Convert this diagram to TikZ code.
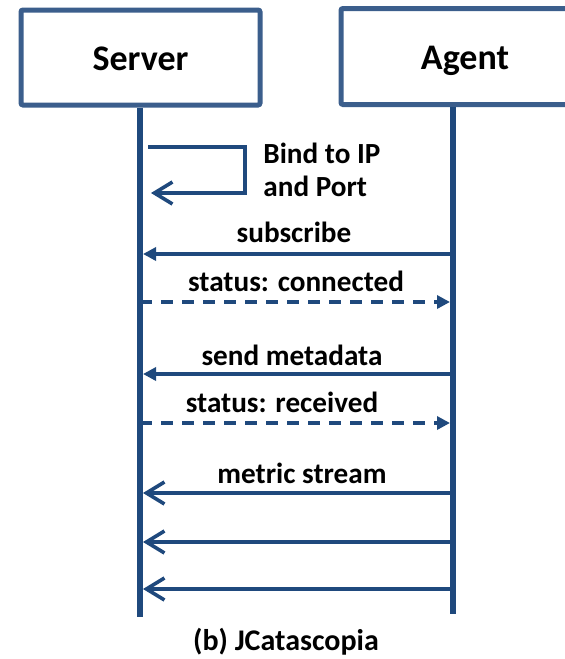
\documentclass[tikz,border=0pt]{standalone}
\usepackage{fontspec}
\setmainfont{Carlito}
\usetikzlibrary{arrows.meta}
\definecolor{boxblue}{RGB}{59,94,140}
\definecolor{lineblue}{RGB}{31,73,125}
\tikzset{
	actor/.style={draw=boxblue, line width=2.5pt, rounded corners=1pt, inner sep=0pt,
		font=\bfseries\fontsize{18}{20}\selectfont, text height=14pt, text depth=1.5pt},
	life/.style={draw=lineblue, line width=3pt},
	msg/.style={draw=lineblue, line width=1.8pt, arrows={-Triangle[length=6.5pt, width=6.5pt]}},
	reply/.style={msg, dash pattern=on 6pt off 4.5pt},
	strm/.style={draw=lineblue, line width=1.8pt, arrows={-Straight Barb[length=9pt, width=11pt]}},
	lbl/.style={font=\bfseries\fontsize{14.6}{17}\selectfont, inner sep=0pt, anchor=base},
}

\begin{document}
\begin{tikzpicture}[x=0.5pt, y=-0.5pt]
	\useasboundingbox (0,0) rectangle (564,659);
	% participants
	\node[actor, minimum width=119.5pt, minimum height=47.5pt] (srv) at (140.5,57.5) {Server};
	\node[actor, minimum width=124pt, minimum height=48pt] (agt) at (465,56.5) {Agent};
	% lifelines
	\coordinate (sEnd) at (140,617);
	\coordinate (aEnd) at (453,614);
	\draw[life] (srv.south -| sEnd) -- (sEnd);
	\draw[life] (agt.south -| aEnd) -- (aEnd);
	% bind loop
	\coordinate (bindA) at (148,147);
	\coordinate (bindB) at (245,193);
	\coordinate (bindC) at (151,193);
	\draw[strm] (bindA) -| (bindB) -- (bindC);
	\node[lbl, anchor=base west] (bind1) at (263,163) {Bind to IP};
	\node[lbl, anchor=base west] (bind2) at (263,196) {and Port};
	% message ends on the lifelines
	\foreach \n/\y in {sub/254, con/302, meta/374, rec/423, ms1/493, ms2/542, ms3/589} {
		\coordinate (s\n) at (143,\y);
		\coordinate (a\n) at (450,\y);
		\coordinate (sl\n) at (140,\y);
		\coordinate (al\n) at (453,\y);
	}
	\draw[msg] (alsub) -- (ssub);
	\node[lbl] (tsub) at (294,242) {subscribe};
	\draw[reply] (slcon) -- (acon);
	\node[lbl] (tcon) at (296,291) {status: connected};
	\draw[msg] (almeta) -- (smeta);
	\node[lbl] (tmeta) at (292,365) {send metadata};
	\draw[reply] (slrec) -- (arec);
	\node[lbl] (trec) at (282,412) {status: received};
	\draw[strm] (alms1) -- (sms1);
	\node[lbl] (tms) at (302,483) {metric stream};
	\draw[strm] (alms2) -- (sms2);
	\draw[strm] (alms3) -- (sms3);
	% caption
	\node[lbl, font=\bfseries\fontsize{15}{17}\selectfont] (cap) at (286,650) {(b) JCatascopia};
\end{tikzpicture}
\end{document}
